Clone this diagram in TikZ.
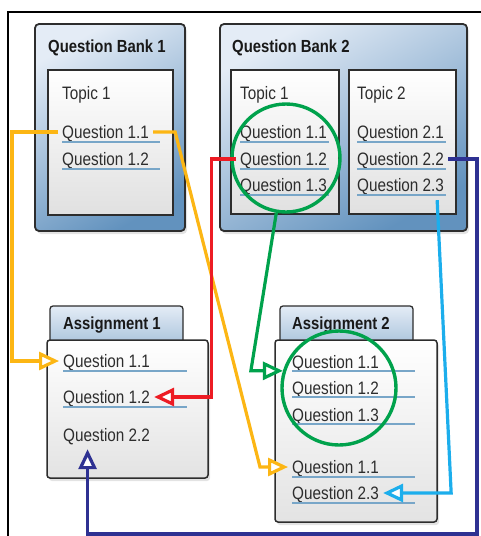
\documentclass[tikz,border=0pt]{standalone}
\usepackage{fontspec}
\setmainfont{Liberation Sans}[FakeStretch=0.85]
\usetikzlibrary{arrows.meta,shadows}

\definecolor{qyellow}{RGB}{252,182,20}
\definecolor{qred}{RGB}{237,28,36}
\definecolor{qgreen}{RGB}{0,162,76}
\definecolor{qcyan}{RGB}{28,174,236}
\definecolor{qnavy}{RGB}{46,49,146}
\definecolor{banklight}{RGB}{228,236,246}
\definecolor{bankdark}{RGB}{98,146,190}
\definecolor{ulblue}{RGB}{120,166,200}
\definecolor{textgray}{RGB}{45,45,45}
\definecolor{edgegray}{RGB}{45,45,45}

\tikzset{
	bank/.style={draw=edgegray, line width=1.8pt, rounded corners=4pt, top color=banklight, bottom color=bankdark, shading angle=30, drop shadow={shadow xshift=2pt, shadow yshift=-3pt, opacity=0.22}},
	topic/.style={draw=edgegray, line width=1.8pt, top color=white, bottom color=black!12},
	tab/.style={draw=edgegray, line width=1.3pt, rounded corners=3pt, top color=banklight, bottom color=bankdark!55},
	sheet/.style={draw=edgegray, line width=1.5pt, rounded corners=3pt, top color=white, bottom color=black!11, drop shadow={shadow xshift=2pt, shadow yshift=-3pt, opacity=0.22}},
	title/.style={anchor=base west, inner sep=0pt, font=\bfseries\fontsize{17.5}{19}\selectfont, text=black!90},
	quest/.style={anchor=base west, inner xsep=4pt, inner ysep=0pt, text height=12pt, text depth=0pt, font=\fontsize{18}{20}\selectfont, text=textgray},
	uline/.style={draw=ulblue, line width=1.3pt},
	link/.style={line width=3.2pt, -{Triangle[open, length=20pt, width=18pt, fill=white]}},
	ring/.style={circle, draw=qgreen, line width=3.4pt, inner sep=0pt},
}

\begin{document}
\begin{tikzpicture}[x=1pt, y=-1pt]
	%%%%% START %%%%%
	\useasboundingbox (0,0) rectangle (481,536);
	\draw[line width=2pt] (8,536) -- (8,12) -- (481,12);

	% question bank 1
	\draw[bank] (35,24) rectangle (185,231);
	\node[title] (bank1) at (48,52) {Question Bank 1};
	\draw[topic] (48,70) rectangle (173,215);
	\node[quest] (b1topic) at (58,99) {Topic 1};
	\node[quest] (b1q11) at (58,138) {Question 1.1};
	\node[quest] (b1q12) at (58,165) {Question 1.2};
	\draw[uline] (62,142) -- (160,142);
	\draw[uline] (62,169) -- (160,169);

	% question bank 2
	\draw[bank] (220,24) rectangle (467,231);
	\node[title] (bank2) at (232,52) {Question Bank 2};
	\draw[topic] (231,70) rectangle (339,214);
	\draw[topic] (349,70) rectangle (456,214);
	\node[quest] (b2topic1) at (236,99) {Topic 1};
	\node[quest] (b2q11) at (236,138) {Question 1.1};
	\node[quest] (b2q12) at (236,165) {Question 1.2};
	\node[quest] (b2q13) at (236,191) {Question 1.3};
	\draw[uline] (240,142) -- (329,142);
	\draw[uline] (240,169) -- (329,169);
	\draw[uline] (240,195) -- (329,195);
	\node[quest] (b2topic2) at (353,99) {Topic 2};
	\node[quest] (b2q21) at (353,138) {Question 2.1};
	\node[quest] (b2q22) at (353,165) {Question 2.2};
	\node[quest] (b2q23) at (353,191) {Question 2.3};
	\draw[uline] (357,142) -- (446,142);
	\draw[uline] (357,169) -- (446,169);
	\draw[uline] (357,195) -- (446,195);

	% assignment 1
	\draw[tab] (50,306) rectangle (183,345);
	\node[title] (assign1) at (63,329) {Assignment 1};
	\draw[sheet] (47,340) rectangle (208,478);
	\node[quest] (a1q11) at (59,367) {Question 1.1};
	\node[quest] (a1q12) at (59,403) {Question 1.2};
	\node[quest] (a1q22) at (59,441) {Question 2.2};
	\draw[uline] (63,371) -- (187,371);
	\draw[uline] (63,407) -- (187,407);

	% assignment 2
	\draw[tab] (280,306) rectangle (413,345);
	\node[title] (assign2) at (292,329) {Assignment 2};
	\draw[sheet] (275,340) rectangle (437,522);
	\node[quest] (a2q11) at (288,368) {Question 1.1};
	\node[quest] (a2q12) at (288,394) {Question 1.2};
	\node[quest] (a2q13) at (288,421) {Question 1.3};
	\node[quest] (a2q11b) at (288,473) {Question 1.1};
	\node[quest] (a2q23) at (288,499) {Question 2.3};
	\draw[uline] (292,371) -- (415,371);
	\draw[uline] (292,397) -- (415,397);
	\draw[uline] (292,424) -- (415,424);
	\draw[uline] (292,477) -- (415,477);
	\draw[uline] (292,503) -- (415,503);

	% rings
	\node[ring, minimum size=108pt] (ring1) at (286,158) {};
	\node[ring, minimum size=114pt] (ring2) at (339,388) {};

	% links
	\draw[link, qyellow] (b1q11.west) -| ([xshift=-47pt]a1q11.west) -- (a1q11.west);
	\draw[link, qyellow] (b1q11.east) -- ++(22,0) -- ([xshift=-28pt]a2q11b.west) -- (a2q11b.west);
	\draw[link, qred] (b2q12.west) -| ([xshift=57pt]a1q12.east) -- (a1q12.east);
	\draw[link, qgreen] (ring1.-100) -- ([xshift=-32pt]ring2.163) -- (ring2.163);
	\draw[link, qcyan] ([xshift=-11pt, yshift=-9pt]b2q23.south east) -- ([xshift=68pt]a2q23.east) -- (a2q23.east);
	\coordinate (navyturn) at (477,534);
	\draw[link, qnavy] (b2q22.east) -| (navyturn) -| ([xshift=-19pt, yshift=-8pt]a1q22.south);
	%%%%% END %%%%%
\end{tikzpicture}
\end{document}
